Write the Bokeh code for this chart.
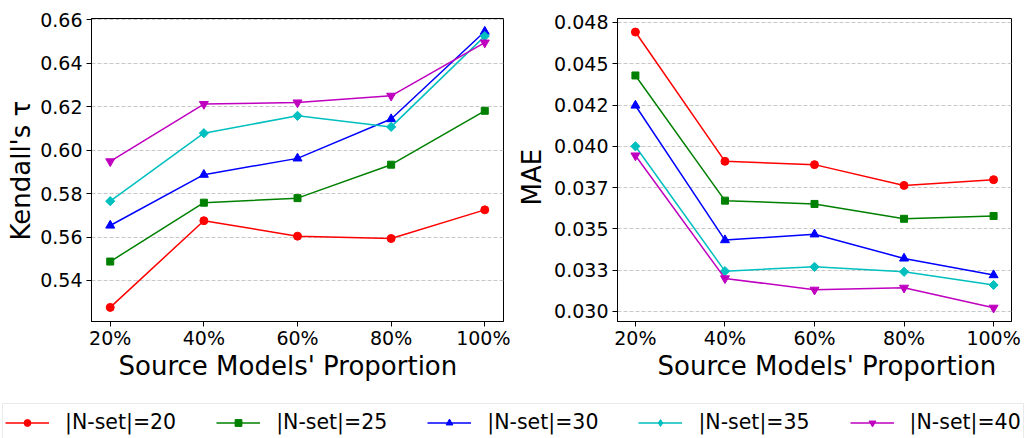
from bokeh.plotting import figure
from bokeh.layouts import column, row
from bokeh.models import Range1d, FixedTicker, Legend, LegendItem, Title
from bokeh.embed import file_html
from bokeh.resources import INLINE
import math

# Proportion of source models used (percent)
proportions = [20, 40, 60, 80, 100]
proportion_labels = ["20%", "40%", "60%", "80%", "100%"]

series_labels = ["|N-set|=20", "|N-set|=25", "|N-set|=30", "|N-set|=35", "|N-set|=40"]

# Kendall's tau for each N-set size
tau_n20 = [0.5276, 0.5675, 0.5604, 0.5593, 0.5725]
tau_n25 = [0.5487, 0.5758, 0.5779, 0.5933, 0.6181]
tau_n30 = [0.5653, 0.5887, 0.5962, 0.6143, 0.6546]
tau_n35 = [0.5765, 0.6078, 0.6158, 0.6107, 0.6525]
tau_n40 = [0.5948, 0.6212, 0.6219, 0.6250, 0.6495]

# Mean absolute error for each N-set size
mae_n20 = [0.04692, 0.03909, 0.03889, 0.03763, 0.03798]
mae_n25 = [0.04429, 0.03671, 0.03651, 0.03561, 0.03578]
mae_n30 = [0.04247, 0.03432, 0.03467, 0.03321, 0.03220]
mae_n35 = [0.04000, 0.03244, 0.03270, 0.03240, 0.03160]
mae_n40 = [0.03944, 0.03200, 0.03131, 0.03143, 0.03022]

tau_ticks = [0.54, 0.56, 0.58, 0.60, 0.62, 0.64, 0.66]
tau_tick_labels = ["0.54", "0.56", "0.58", "0.60", "0.62", "0.64", "0.66"]
mae_ticks = [0.0300, 0.0325, 0.0350, 0.0375, 0.0400, 0.0425, 0.0450, 0.0475]
mae_tick_labels = ["0.030", "0.033", "0.035", "0.037", "0.040", "0.042", "0.045", "0.048"]

colors = ["#ff0000", "#008000", "#0000ff", "#00bfbf", "#bf00bf"]
# in the panels the diamond is a square turned by 45 degrees
markers = ["circle", "square", "triangle", "square", "inverted_triangle"]
marker_angles = [0, 0, 0, math.pi / 4, 0]
marker_sizes = [8, 7, 9, 6.5, 9]
# legend entries ignore the rotation, so they use the diamond shape directly
legend_markers = ["circle", "square", "triangle", "diamond", "inverted_triangle"]
legend_angles = [0, 0, 0, 0, 0]

FONT = "DejaVu Sans"


def style(p, yticks, ylabels):
    p.xaxis.ticker = FixedTicker(ticks=proportions)
    p.xaxis.major_label_overrides = {x: l for x, l in zip(proportions, proportion_labels)}
    p.yaxis.ticker = FixedTicker(ticks=yticks)
    p.yaxis.major_label_overrides = {t: l for t, l in zip(yticks, ylabels)}
    for ax in (p.xaxis[0], p.yaxis[0]):
        ax.major_label_text_font = FONT
        ax.major_label_text_font_size = "19px"
        ax.major_label_text_color = "black"
        ax.major_tick_in = 0
        ax.major_tick_out = 5
        ax.minor_tick_line_color = None
        ax.axis_line_color = "black"
        ax.major_tick_line_color = "black"
    p.xaxis.major_label_standoff = 0
    p.yaxis.major_label_standoff = 4
    p.xgrid.grid_line_color = None
    p.ygrid.grid_line_color = "#c8c8c8"
    p.ygrid.grid_line_dash = "4 2"
    p.ygrid.grid_line_width = 1
    p.outline_line_color = "black"
    p.outline_line_width = 1
    p.outline_line_alpha = 1
    p.background_fill_color = "white"
    p.border_fill_color = "white"


def axis_title(p, text, side, offset, standoff):
    # axis title as a side panel, start of the text shifted along the frame by `offset`
    p.add_layout(Title(text=text, align="left", offset=offset, standoff=standoff,
                       text_font=FONT, text_font_size="26px", text_font_style="normal",
                       text_color="black"), side)


def draw(p, series, shapes=markers, angles=marker_angles):
    rs = []
    for ys, c, m, a, s in zip(series, colors, shapes, angles, marker_sizes):
        ln = p.line(proportions, ys, line_color=c, line_width=1.5)
        sc = p.scatter(proportions, ys, marker=m, angle=a, size=s, fill_color=c, line_color=c)
        rs.append((ln, sc))
    return rs


p1 = figure(width=510, height=390, output_backend="svg", toolbar_location=None,
            x_range=Range1d(16, 104), y_range=Range1d(0.5211, 0.6606),
            min_border_left=91, min_border_right=7, min_border_top=18, min_border_bottom=69)
style(p1, tau_ticks, tau_tick_labels)
draw(p1, [tau_n20, tau_n25, tau_n30, tau_n35, tau_n40])
axis_title(p1, "Source Models' Proportion", "below", 27, -5)
axis_title(p1, "Kendall's τ", "left", 81, 4)

p2 = figure(width=517, height=390, output_backend="svg", toolbar_location=None,
            x_range=Range1d(16, 104), y_range=Range1d(0.02939, 0.04774),
            min_border_left=103, min_border_right=16, min_border_top=14, min_border_bottom=67)
style(p2, mae_ticks, mae_tick_labels)
draw(p2, [mae_n20, mae_n25, mae_n30, mae_n35, mae_n40])
axis_title(p2, "Source Models' Proportion", "below", 40, -5)
axis_title(p2, "MAE", "left", 116, 9)

# Shared legend strip below both panels; its plotting area is kept off the data
leg = figure(width=1027, height=48, output_backend="svg", toolbar_location=None,
             x_range=Range1d(1000, 1001), y_range=Range1d(1000, 1001),
             x_axis_type=None, y_axis_type=None, min_border=0)
leg.grid.visible = False
leg.outline_line_color = None
leg_rs = draw(leg, [tau_n20, tau_n25, tau_n30, tau_n35, tau_n40], legend_markers, legend_angles)
items = [LegendItem(label=lab, renderers=[ln, sc]) for lab, (ln, sc) in zip(series_labels, leg_rs)]
legend = Legend(items=items, orientation="horizontal", location=(2, -3),
                glyph_width=44, glyph_height=17, label_height=32, label_standoff=16,
                spacing=40, padding=2, margin=0,
                label_text_font=FONT, label_text_font_size="20.5px", label_text_color="black",
                border_line_color="#d5d5d5", border_line_width=1.5, background_fill_alpha=1)
leg.add_layout(legend, "center")

layout = column(row(p1, p2), leg)
open("out.html", "w").write(file_html(layout, INLINE))
